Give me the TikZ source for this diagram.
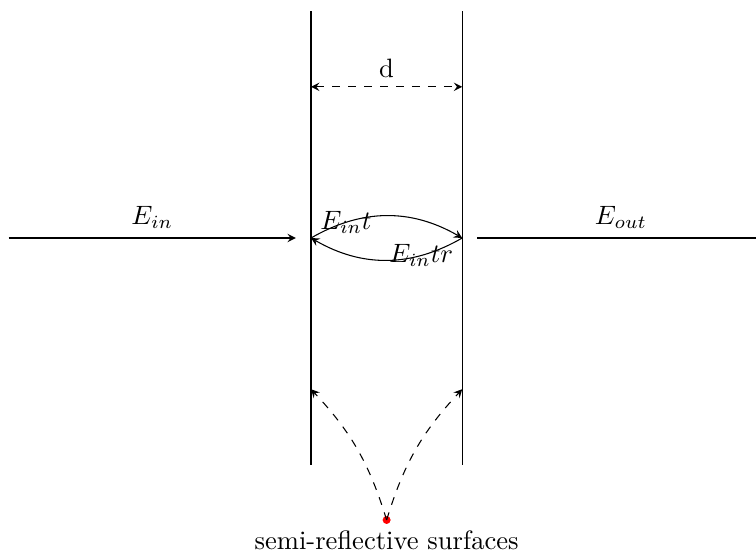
\documentclass[tikz,border=0pt]{standalone}
\usetikzlibrary{arrows}
\begin{document}
\begin{tikzpicture}[>=stealth,
  plate/.style={draw},
  beam/.style={->},
  dimline/.style={<->,dashed},
  pointer/.style={->,dashed}]
\useasboundingbox (-4.114,-4.153) rectangle (5.886,3.148);
% plates
\coordinate (lt) at (0,3);
\coordinate (lb) at (0,-3);
\coordinate (rt) at (2,3);
\coordinate (rb) at (2,-3);
\draw[plate] (lt) -- (lb);
\draw[plate] (rt) -- (rb);
% distance
\coordinate (dl) at (0,2);
\coordinate (dr) at (2,2);
\draw[dimline] (dl) -- node[above] (dlab) {d} (dr);
% beams
\coordinate (in0) at (-4,0);
\coordinate (in1) at (-0.2,0);
\coordinate (out0) at (2.2,0);
\coordinate (out1) at (6,0);
\draw[beam] (in0) -- node[above] (ein) {$E_{in}$} (in1);
\draw[beam] (out0) -- node[above] (eout) {$E_{out}$} (out1);
% inner reflections
\coordinate (L) at (0,0);
\coordinate (R) at (2,0);
\draw[beam] (L) to[bend left=30] node[pos=0.23] (eint) {$E_{in}t$} (R);
\draw[beam] (R) to[bend left=30] node[pos=0.27] (eintr) {$E_{in}tr$} (L);
% semi-reflective surfaces
\node[circle,fill=red,inner sep=0pt,minimum size=3pt] (dot) at (1,-3.73) {};
\node (lab) at (1,-4.0) {semi-reflective surfaces};
\coordinate (sl) at (0,-2);
\coordinate (sr) at (2,-2);
\draw[pointer] (dot.center) to[bend right=13] (sl);
\draw[pointer] (dot.center) to[bend left=13] (sr);
\end{tikzpicture}
\end{document}
